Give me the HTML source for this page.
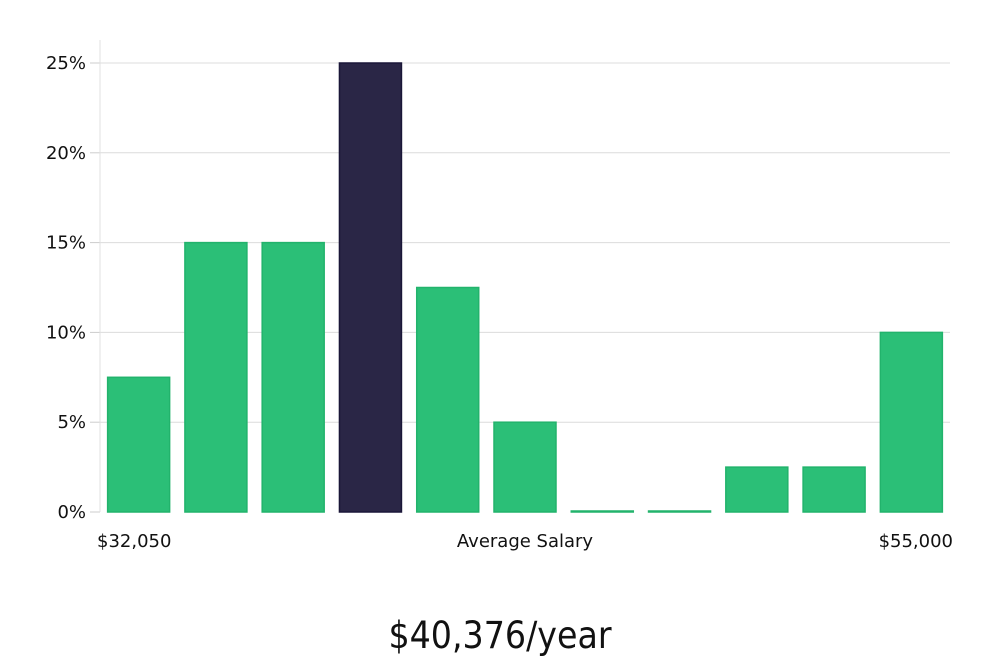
<!DOCTYPE html>
<html><head><meta charset="utf-8"><style>
body{margin:0;background:#fff;width:1000px;height:660px;overflow:hidden}
svg text{font-family:"DejaVu Sans","Liberation Sans",sans-serif}
</style></head><body>
<svg id="chart" width="1000" height="660" xmlns="http://www.w3.org/2000/svg"></svg>
<script>
const categories=["b1","b2","b3","b4","b5","b6","b7","b8","b9","b10","b11"];
const values=[7.5,15,15,25,12.5,5,0,0,2.5,2.5,10];
const highlightIndex=3;
const yTicks=[0,5,10,15,20,25];
const yTickLabels=["0%","5%","10%","15%","20%","25%"];
const ns="http://www.w3.org/2000/svg";
const svg=document.getElementById('chart');
const X0=100,X1=950,Y0=512,Y25=63;
const y=v=>Y0-(v/25)*(Y0-Y25);
const band=(X1-X0)/categories.length;
const x=i=>X0+i*band;
function mk(t,a,p){const e=document.createElementNS(ns,t);for(const k in a)e.setAttribute(k,a[k]);(p||svg).appendChild(e);return e;}
const grid=mk('g',{});
yTicks.forEach((t,i)=>{
  if(t>0){const l=mk('line',{x1:X0,x2:X1,y1:y(t),y2:y(t),stroke:'#dcdcdc','stroke-width':1},grid);}
  const tk=mk('line',{x1:X0-10,x2:X0,y1:y(t),y2:y(t),stroke:'#ccc','stroke-width':1});
  
  const tx=mk('text',{x:X0-14,y:y(t)+6,'text-anchor':'end','font-size':18,fill:'#111'});
  tx.textContent=yTickLabels[i];
  
});
const ax=mk('line',{x1:X0,x2:X0,y1:40,y2:Y0,stroke:'#e0e0e0','stroke-width':1});

const bw=62,pad=(band-bw)/2;
values.forEach((v,i)=>{
  const h=Math.max(Y0-y(v),1);
  const hi=i===highlightIndex;
  const r=mk('rect',{x:x(i)+pad,y:Y0-h,width:bw,height:h,fill:hi?'#2a2646':'#2bbf77',stroke:hi?'#1a1638':'#22b36c','stroke-width':1.5});
  
  
});
const labs=[["$32,050",97,'start'],["Average Salary",525,'middle'],["$55,000",953,'end']];
labs.forEach(([t,xx,a],i)=>{
  const e=mk('text',{x:xx,y:547,'text-anchor':a,'font-size':18,fill:'#111'});
  e.textContent=t;
  
  
});
const s=mk('text',{x:500,y:648,'text-anchor':'middle','font-size':37,fill:'#111',style:'font-family:"Liberation Sans Narrow","DejaVu Sans Condensed","Liberation Sans",sans-serif'});
s.textContent="$40,376/year";


</script>
</body></html>
